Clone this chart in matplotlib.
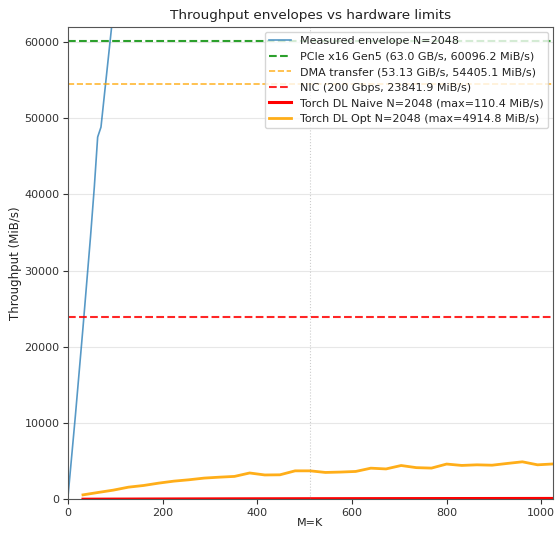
import numpy as np
import matplotlib
matplotlib.use("Agg")
import matplotlib.pyplot as plt

# measured envelope (N=2048), clipped by the y-limit
env_mk = [1, 16, 32, 48, 56, 63, 70, 96, 128]
env_tp = [800, 11000, 22500, 34500, 41000, 47500, 48800, 64000, 82000]

# torch DL runs
mk = np.arange(32, 1025, 32)
opt_tp = [580, 895, 1200, 1590, 1810, 2120, 2380, 2560, 2780, 2900, 3000, 3450,
          3190, 3210, 3730, 3730, 3520, 3570, 3650, 4080, 3980, 4430, 4150, 4090,
          4620, 4440, 4520, 4470, 4700, 4914.8, 4520, 4630]
naive_tp = [12, 18, 25, 30, 36, 40, 45, 50, 54, 58, 62, 65, 68, 71, 74, 77,
            80, 82, 85, 87, 89, 91, 93, 95, 97, 99, 101, 103, 105, 107, 109, 110.4]

# hardware limits (MiB/s)
pcie = 60096.2
dma = 54405.1
nic = 23841.9

plt.rcParams["text.color"] = "#222222"
plt.rcParams["axes.labelcolor"] = "#222222"
plt.rcParams["xtick.color"] = "#333333"
plt.rcParams["ytick.color"] = "#333333"
plt.rcParams["axes.edgecolor"] = "#555555"

fig, ax = plt.subplots(figsize=(5.56, 5.34), dpi=100)
fig.subplots_adjust(left=0.122, right=0.994, bottom=0.065, top=0.949)

ax.plot(env_mk, env_tp, color="tab:blue", linewidth=1.2, alpha=0.75,
        label="Measured envelope N=2048")
ax.axhline(pcie, color="tab:green", linestyle="--", linewidth=1.5,
           label="PCIe x16 Gen5 (63.0 GB/s, 60096.2 MiB/s)")
ax.axhline(dma, color="orange", linestyle="--", linewidth=1.2, alpha=0.8,
           label="DMA transfer (53.13 GiB/s, 54405.1 MiB/s)")
ax.axhline(nic, color="red", linestyle="--", linewidth=1.5, alpha=0.85,
           label="NIC (200 Gbps, 23841.9 MiB/s)")
ax.plot(mk, naive_tp, color="red", linewidth=2.2,
        label="Torch DL Naive N=2048 (max=110.4 MiB/s)")
ax.plot(mk, opt_tp, color="orange", linewidth=2.0, alpha=0.9,
        label="Torch DL Opt N=2048 (max=4914.8 MiB/s)")
ax.axvline(512, color="gray", linestyle=":", linewidth=0.8, alpha=0.4)

ax.set_xlim(0, 1024)
ax.set_ylim(0, pcie * 1.03)
ax.grid(axis="y", alpha=0.3)
ax.tick_params(labelsize=8, pad=2.5)
ax.set_xlabel("M=K", fontsize=8, labelpad=0)
ax.set_ylabel("Throughput (MiB/s)", fontsize=8.5, labelpad=2)
ax.set_title("Throughput envelopes vs hardware limits", fontsize=9.7)
ax.legend(loc="upper right", fontsize=8, borderaxespad=0.4)

fig.savefig("out.png", dpi=100)
